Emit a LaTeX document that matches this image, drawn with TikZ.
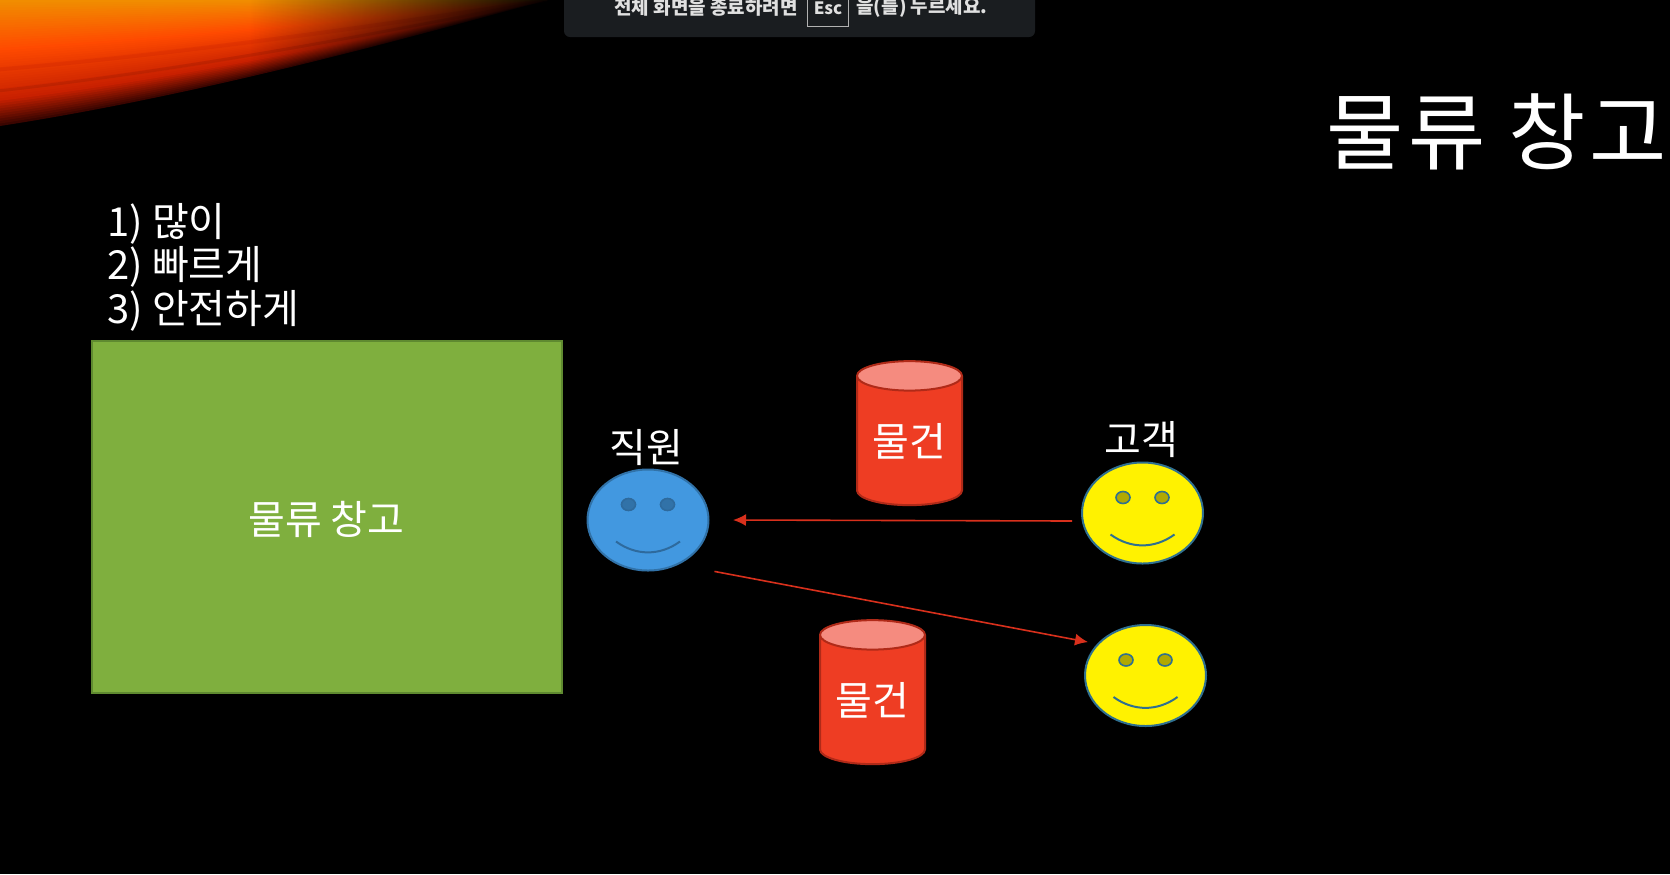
\documentclass[tikz,border=0pt]{standalone}
\usepackage{fontspec}
\setmainfont{Noto Sans CJK KR}
\usetikzlibrary{arrows.meta,shapes.geometric,fadings}
\definecolor{flamedark}{HTML}{3A0500}
\definecolor{flamered}{HTML}{C82000}
\definecolor{flamehot}{HTML}{FF4A00}
\definecolor{flameor}{HTML}{F09000}
\definecolor{barcol}{HTML}{1A1D20}
\definecolor{boxgreen}{HTML}{7FAF3E}
\definecolor{boxgreenl}{HTML}{5F8A30}
\definecolor{canred}{HTML}{EE3D23}
\definecolor{cantop}{HTML}{F58B7F}
\definecolor{canline}{HTML}{B02A18}
\definecolor{faceblue}{HTML}{4298E0}
\definecolor{faceyellow}{HTML}{FFF200}
\definecolor{faceline}{HTML}{2F7090}
\definecolor{arrowred}{HTML}{D8301C}
\newcommand{\flameband}[2]{\fill[#2] (0,0) -- (0,#1*126) .. controls (200,#1*95) and (400,#1*40) .. (547,0) -- cycle;}
\newcommand{\flamestreak}[2]{\draw[#2] (0,#1*126) .. controls (200,#1*95) and (400,#1*40) .. (547,0);}
\newcommand{\fsize}[1]{\fontsize{#1}{#1}\selectfont}

\begin{document}
\begin{tikzpicture}[x=0.5pt,y=-0.5pt]
\tikzset{face/.style = {shape=ellipse,draw=faceline,line width=1pt,minimum width=60.5pt,minimum height=50.5pt,inner sep=0pt}}
\tikzset{can/.style = {shape=cylinder,shape border rotate=90,aspect=0.4,draw=canline,line width=1pt,
  cylinder uses custom fill,cylinder body fill=canred,cylinder end fill=cantop,
  minimum width=52.5pt,minimum height=72pt,inner sep=0pt,text=white,font=\fsize{20}}}
\tikzset{word/.style = {text=white,inner sep=0pt,font=\fsize{20}}}
\tikzset{edge/.style = {-{Latex[length=6.5pt,width=6pt]},draw=arrowred,fill=arrowred,line width=0.8pt}}
\useasboundingbox (0,0) rectangle (1670,874);
\fill[black] (0,0) rectangle (1670,874);
% flame in the corner
\foreach \i in {100,98,...,80} {\pgfmathsetmacro\p{(\i-80)*5}\flameband{\i/100}{flamedark!\p!flamered}}
\foreach \i in {78,76,...,40} {\pgfmathsetmacro\p{(\i-40)*2.5}\flameband{\i/100}{flamered!\p!flamehot}}
\foreach \i in {38,36,...,2} {\pgfmathsetmacro\p{(\i)*2.5}\flameband{\i/100}{flamehot!\p!flameor}}
\flamestreak{0.72}{flamered!60!black,opacity=0.2,line width=1.5pt}
\flamestreak{0.55}{flamered,opacity=0.25,line width=2pt}
\fill[black,path fading=west] (250,0) rectangle (560,90);
% esc bar
\fill[barcol,rounded corners=3pt] (564,-10) rectangle (1035,37);
\node[text=white!88!black,inner sep=0pt,font=\fsize{9.5}\bfseries] (barl) at (706,7) {전체 화면을 종료하려면};
\node[draw=white!70!black,line width=0.4pt,text=white!88!black,inner sep=0pt,minimum width=20.5pt,minimum height=18pt,font=\fsize{8.5}\bfseries] (esc) at (828,8) {Esc};
\node[text=white!88!black,inner sep=0pt,font=\fsize{9.5}\bfseries] (barr) at (922,7) {을(를) 누르세요.};
% title and list
\node[word,font=\fsize{42}\addfontfeature{LetterSpace=5}] (title) at (1497,132) {물류 창고};
\node[word,anchor=north west,align=left] (list) at (107,203) {1) 많이\\[0.2pt]2) 빠르게\\[0.2pt]3) 안전하게};
% warehouse
\node[draw=boxgreenl,fill=boxgreen,line width=1pt,minimum width=235pt,minimum height=176pt,text=white,font=\fsize{20}] (store) at (326.5,517) {\raisebox{-8.5pt}[0pt][0pt]{물류 창고}};
% goods
\node[can] (gooda) at (909.5,441) {물건};
\node[can] (goodb) at (872.5,700) {물건};
% people
\node[face,fill=faceblue,draw=faceblue!75!black] (staff) at (648,520) {};
\node[face,fill=faceyellow] (custa) at (1142.5,513) {};
\node[face,fill=faceyellow] (custb) at (1145.5,675.5) {};
\node[word] (stafflab) at (646,448) {직원};
\node[word] (custlab) at (1141,440) {고객};
% eyes and mouths
\foreach \f/\e/\m in {staff/faceblue!75!black/faceblue!70!black,custa/faceyellow!70!black/faceline,custb/faceyellow!70!black/faceline} {
  \draw[draw=\m,fill=\e,line width=0.8pt] ([shift={(-19.5,-15.5)}]\f.center) ellipse (7 and 6);
  \draw[draw=\m,fill=\e,line width=0.8pt] ([shift={(19.5,-15.5)}]\f.center) ellipse (7 and 6);
  \draw[draw=\m,line width=1pt] ([shift={(-32,21.5)}]\f.center) .. controls ([shift={(-12,36)}]\f.center) and ([shift={(12,36)}]\f.center) .. ([shift={(32,21.5)}]\f.center);
}
%edges
\draw[edge] ([shift={(-9,8)}]custa.west) to ([shift={(23.5,0)}]staff.east);
\draw[edge] ([shift={(23,15)}]staff.south east) to ([shift={(-14,3)}]custb.north west);
\end{tikzpicture}
\end{document}
